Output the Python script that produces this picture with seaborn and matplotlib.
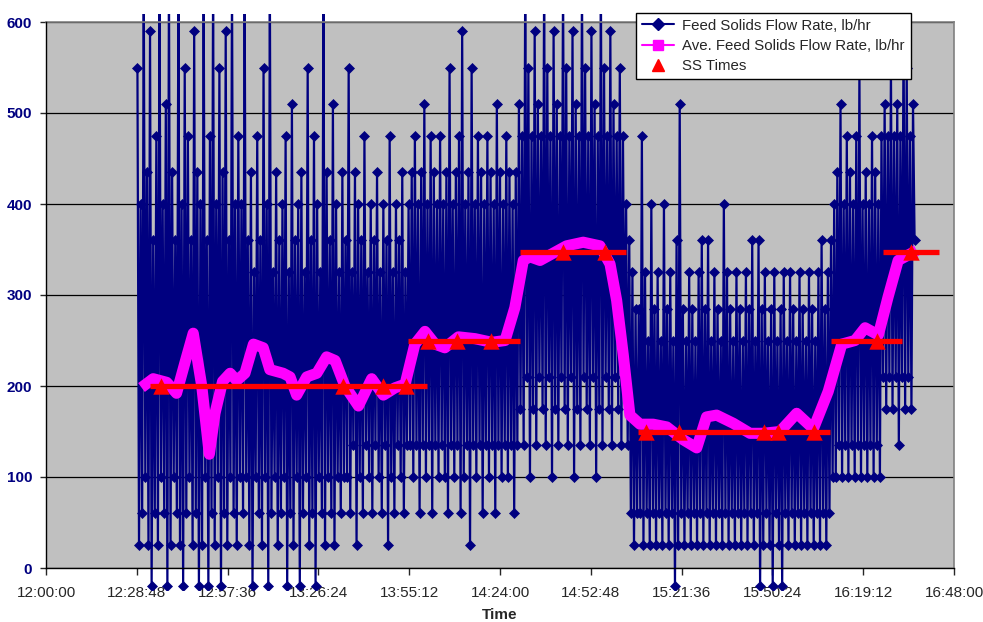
import numpy as np
import pandas as pd
import matplotlib
matplotlib.use("Agg")
import matplotlib.pyplot as plt
from matplotlib.lines import Line2D
from matplotlib.patches import Rectangle
import seaborn as sns

# Feed solids flow rate (lb/hr), one reading every 30 s starting 12:29:00
# (times are kept as minutes after 12:00:00)
feed_start_min = 29.0
feed_step_min = 0.5

feed_ss200_a = [550, 25, 400, 60, 650, 100, 435, 25, 590, -20,
                360, 60, 475, 25, 650, 100, 400, 60, 510, -20,
                650, 25, 435, 100, 360, 60, 650, 25, 400, -20,
                550, 60, 475, 100, 360, 25, 590, 60, 435, -20,
                400, 25, 650, 100, 360, -20, 475, 60, 650, 25,
                400, 100, 550, -20, 435, 60, 590, 25, 360, 100,
                650, 60, 400, 25, 475, 100]
feed_ss200_b = [400, 60, 650, 100, 360, 25, 435, -20, 325, 100,
                475, 60, 360, 25, 550, 100, 400, -20, 650, 60,
                325, 100, 435, 25, 360, 60, 400, 100, 475, -20,
                325, 60, 510, 25, 360, 100, 400, -20, 435, 60,
                325, 100, 550, 25, 360, 60, 475, -20, 400, 100,
                325, 60, 650, 25, 435, 100, 360, 60, 510, 25,
                400, 100, 325, 60, 435, 100]
feed_ss200_c = [360, 100, 550, 60, 325, 135, 435, 25, 400, 100,
                360, 60, 475, 135, 325, 100, 400, 60, 360, 135,
                435, 100, 325, 60, 400, 135, 360, 25, 475, 100,
                325, 60, 400, 135, 360, 100, 435, 60, 325, 135]
feed_ss250 = [400, 135, 435, 100, 475, 135, 400, 60, 435, 135,
              510, 100, 400, 135, 475, 60, 435, 135, 400, 100,
              475, 135, 400, 100, 435, 60, 550, 135, 400, 100,
              435, 135, 475, 60, 590, 100, 400, 135, 435, 25,
              550, 135, 400, 100, 475, 135, 435, 60, 400, 135,
              475, 100, 435, 135, 400, 60, 510, 135, 435, 100,
              400, 135, 475, 100, 435, 135, 400, 60, 435, 135]
feed_ss350 = [510, 175, 475, 135, 650, 210, 550, 100, 475, 175,
              590, 135, 510, 210, 475, 175, 650, 135, 550, 210,
              475, 100, 590, 175, 510, 135, 475, 210, 650, 175,
              550, 135, 475, 210, 590, 100, 510, 175, 475, 135,
              650, 210, 550, 175, 475, 135, 590, 210, 510, 100,
              475, 175, 650, 135, 550, 210, 475, 175, 590, 135,
              510, 210, 475, 175, 550, 135, 475, 210]
feed_drop = [400, 135, 360, 60, 325, 25, 285, 60]
feed_ss150 = [285, 60, 475, 25, 325, 60, 250, 25, 400, 60,
              285, 25, 325, 60, 250, 25, 400, 60, 285, 25,
              325, 60, 250, -20, 360, 25, 510, 60, 285, 25,
              250, 60, 325, 25, 285, 60, 250, 25, 325, 60,
              360, 25, 285, 60, 360, 25, 250, 60, 325, 25,
              285, 60, 250, 25, 400, 60, 325, 25, 285, 60,
              250, 25, 325, 60, 285, 25, 250, 60, 325, 25,
              285, 60, 360, 25, 250, 60, 360, -20, 285, 25,
              325, 60, 250, 25, 285, -20, 325, 60, 250, 25,
              285, -20, 325, 60, 250, 25, 325, 60, 285, 25,
              250, 60, 325, 25, 285, 60, 250, 25, 325, 60,
              285, 25, 250, 60, 325, 25, 360, 60, 285, 25,
              325, 60, 360, 100]
feed_ss250_late = [400, 100, 435, 135, 510, 100, 400, 135, 475, 100,
                   435, 135, 400, 100, 475, 135, 550, 100, 400, 135,
                   435, 100, 400, 135, 475, 100, 435, 135, 400, 100]
feed_ss350_late = [475, 210, 510, 175, 475, 210, 550, 175, 475, 210,
                   510, 135, 475, 210, 590, 175, 550, 210, 475, 175,
                   510, 360]

# Averaged feed solids flow rate (minutes after 12:00, lb/hr)
ave_t = [31.7, 34.0, 38.3, 41.4, 44.1, 46.7, 49.4, 51.8, 53.6, 56.0,
         58.4, 60.5, 63.1, 65.8, 68.9, 71.0, 75.2, 77.4, 79.5, 82.7,
         85.9, 89.0, 91.7, 94.8, 99.1, 103.3, 107.0, 110.7, 113.9, 117.0,
         120.2, 123.4, 126.5, 130.8, 136.1, 141.4, 145.6, 148.7, 151.4, 153.5,
         156.7, 160.9, 165.1, 170.4, 175.7, 178.9, 181.0, 183.1, 185.2, 188.4,
         192.6, 196.9, 202.1, 206.4, 209.5, 212.7, 218.0, 223.3, 227.5, 232.8,
         238.1, 243.4, 248.1, 252.4, 256.6, 259.8, 264.0, 267.1, 270.3, 274.6]
ave_v = [202, 208, 204, 192, 226, 258, 200, 125, 170, 205,
         214, 206, 214, 246, 242, 218, 214, 210, 190, 210,
         214, 232, 228, 200, 178, 208, 190, 198, 202, 246,
         260, 246, 242, 254, 252, 248, 250, 286, 338, 342,
         338, 346, 354, 358, 354, 334, 294, 234, 168, 158,
         158, 155, 141, 132, 166, 168, 159, 148, 148, 150,
         170, 153, 194, 246, 250, 264, 256, 298, 338, 346]

# Steady-state times (minutes after 12:00, lb/hr)
ss_t = [36.6, 94.2, 107.0, 114.2, 121.2, 130.5, 141.0, 164.1, 177.2,
        190.3, 200.8, 227.7, 232.3, 243.7, 263.5, 274.3]
ss_v = [200, 200, 200, 200, 249, 249, 249, 347, 347,
        150, 150, 150, 150, 150, 249, 347]

# Steady-state levels (start, end in minutes after 12:00, lb/hr)
level_start = [33.0, 114.7, 150.3, 187.9, 249.0, 265.6]
level_end = [121.0, 150.3, 184.0, 248.7, 271.6, 283.3]
level_value = [200, 249, 347, 150, 249, 347]

x_ticks = [0, 28.8, 57.6, 86.4, 115.2, 144.0, 172.8, 201.6, 230.4, 259.2, 288.0]
x_tick_labels = ["12:00:00", "12:28:48", "12:57:36", "13:26:24", "13:55:12",
                 "14:24:00", "14:52:48", "15:21:36", "15:50:24", "16:19:12", "16:48:00"]
y_ticks = [0, 100, 200, 300, 400, 500, 600]

feed = (feed_ss200_a + feed_ss200_b + feed_ss200_c + feed_ss250 + feed_ss350
        + feed_drop + feed_ss150 + feed_ss250_late + feed_ss350_late)
df_feed = pd.DataFrame({"t": feed_start_min + feed_step_min * np.arange(len(feed)),
                        "v": feed})
df_ave = pd.DataFrame({"t": ave_t, "v": ave_v})
df_ss = pd.DataFrame({"t": ss_t, "v": ss_v})

navy = "#000080"
magenta = "#FF00FF"
red = "#FF0000"

sns.set_style("white")
plt.rcParams["font.family"] = ["Liberation Sans", "DejaVu Sans"]

fig = plt.figure(figsize=(9.83, 6.22), dpi=100)
ax = fig.add_axes([46 / 983, 1 - 568 / 622, 908 / 983, 546 / 622])
ax.set_facecolor("#C0C0C0")

sns.lineplot(data=df_feed, x="t", y="v", estimator=None, sort=False, ax=ax,
             color=navy, linewidth=1.6, marker="D", markersize=5,
             markeredgewidth=0.5, markeredgecolor=navy, zorder=2)
feed_line = ax.lines[-1]
clip = Rectangle((46 / 983, 1 - 590 / 622), 908 / 983, 576 / 622,
                 transform=fig.transFigure, facecolor="none", edgecolor="none")
feed_line.set_clip_path(clip)

sns.lineplot(data=df_ave, x="t", y="v", estimator=None, sort=False, ax=ax,
             color=magenta, linewidth=8, solid_capstyle="projecting", zorder=3)

ax.hlines(level_value, level_start, level_end, colors=red, linewidth=3.8, zorder=4)

sns.scatterplot(data=df_ss, x="t", y="v", ax=ax, marker="^", s=140,
                color=red, edgecolor=red, linewidth=0, zorder=5)

ax.set_xlim(0, 288)
ax.set_ylim(0, 600)
ax.set_xticks(x_ticks, x_tick_labels, fontsize=11)
ax.set_yticks(y_ticks, [str(v) for v in y_ticks], fontsize=11,
              fontweight="bold", color=navy)
ax.tick_params(axis="y", direction="out", length=4, width=1, pad=6, left=True)
ax.tick_params(axis="x", direction="out", length=5, width=1, pad=8, bottom=True)
ax.yaxis.grid(True, color="black", linewidth=0.9)
ax.xaxis.grid(False)
ax.set_axisbelow(True)

for side in ["left", "bottom"]:
    ax.spines[side].set_color("black")
    ax.spines[side].set_linewidth(1)
for side in ["top", "right"]:
    ax.spines[side].set_color("#808080")
    ax.spines[side].set_linewidth(1.2)
ax.spines["left"].set_zorder(6)
ax.spines["bottom"].set_zorder(6)

ax.set_xlabel("Time", fontsize=11, fontweight="bold", labelpad=6)
ax.set_ylabel("")

handles = [
    Line2D([], [], color=navy, linewidth=1.5, marker="D", markersize=6),
    Line2D([], [], color=magenta, linewidth=1.5, marker="s", markersize=6.5),
    Line2D([], [], color=red, linestyle="none", marker="^", markersize=9),
]
labels = ["Feed Solids Flow Rate, lb/hr", "Ave. Feed Solids Flow Rate, lb/hr", "SS Times"]
leg = ax.legend(handles, labels, loc="upper left",
                bbox_to_anchor=(636 / 983, 1 - 12.7 / 622),
                bbox_transform=fig.transFigure, fontsize=10.8, frameon=True,
                fancybox=False, framealpha=1, edgecolor="black",
                borderaxespad=0, borderpad=0.4, handlelength=2.1,
                handletextpad=0.6, labelspacing=0.42)
leg.get_frame().set_linewidth(1)
leg.set_zorder(10)

fig.savefig("out.png", dpi=100)
